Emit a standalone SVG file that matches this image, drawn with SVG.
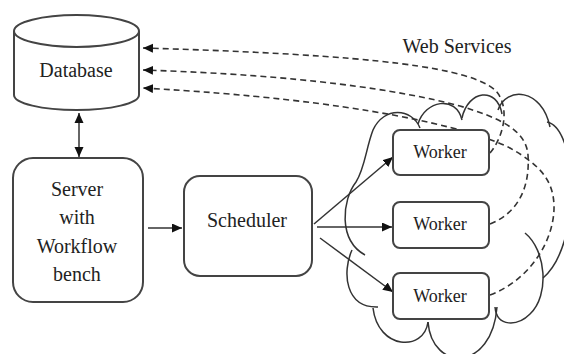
<svg xmlns="http://www.w3.org/2000/svg" width="564" height="354" viewBox="0 0 564 354">
<style>
.box{fill:#fff;stroke:#444;stroke-width:2}
.cloud{fill:none;stroke:#333;stroke-width:1.5}
.ln{fill:none;stroke:#333;stroke-width:1.5}
.dash{fill:none;stroke:#333;stroke-width:1.6;stroke-dasharray:6 4}
text{font-family:"Times New Roman",Times,"Liberation Serif","DejaVu Serif","Noto Serif",Tinos,serif;font-size:20px;fill:#222;text-anchor:middle}
.tw{font-size:18px}
</style>
<defs>
<marker id="ah" markerUnits="userSpaceOnUse" markerWidth="11" markerHeight="10" refX="10" refY="4.5" orient="auto">
<path d="M0,0 L10,4.5 L0,9 z" fill="#111"/>
</marker>
<marker id="ahs" markerUnits="userSpaceOnUse" markerWidth="11" markerHeight="10" refX="0" refY="4.5" orient="auto">
<path d="M10,0 L0,4.5 L10,9 z" fill="#111"/>
</marker>
</defs>
<g id="cloud">
<path class="cloud" d="M420,128 C412,108 384,106 373,130 C366,148 365,168 356,182 C342,200 338,240 365,255"/>
<path class="cloud" d="M418,124 C425,100 456,95 462,120"/>
<path class="cloud" d="M462,118 C468,90 497,86 502,114"/>
<path class="cloud" d="M498,110 C506,86 542,88 550,127"/>
<path class="cloud" d="M547,122 C578,128 582,245 543,278"/>
<path class="cloud" d="M525,233 C546,250 550,295 530,314 C518,326 497,328 495,307"/>
<path class="cloud" d="M428,322 C432,372 492,372 497,307"/>
<path class="cloud" d="M373,308 C378,350 424,352 428,322"/>
<path class="cloud" d="M352,250 C342,272 345,308 378,307"/>
</g>
<g id="connectors">
<path class="dash" d="M490,153 C505,135 510,105 495,90 C470,68 380,55 143,48" marker-end="url(#ah)"/>
<path class="dash" d="M490,224 C520,212 530,185 528,155 C526,130 500,118 460,106 C400,90 300,75 143,70" marker-end="url(#ah)"/>
<path class="dash" d="M490,295 C530,280 555,240 554,205 C553,180 540,165 510,148 C470,128 360,100 143,88" marker-end="url(#ah)"/>
<path class="ln" d="M79,113 L79,157" marker-start="url(#ahs)" marker-end="url(#ah)"/>
<path class="ln" d="M148,228 L182,228" marker-end="url(#ah)"/>
<path class="ln" d="M314,224 L393,157" marker-end="url(#ah)"/>
<path class="ln" d="M317,227 L392,227" marker-end="url(#ah)"/>
<path class="ln" d="M320,238 L393,292" marker-end="url(#ah)"/>
</g>
<g id="database">
<path class="box" d="M14,31 L14,95 A62.5,15 0 0 0 139,95 L139,31"/>
<ellipse class="box" cx="76.5" cy="31" rx="62.5" ry="16"/>
<text x="76" y="77">Database</text>
</g>
<g id="server">
<rect class="box" x="13" y="158" width="130" height="144" rx="20"/>
<text x="77" y="196">Server</text>
<text x="77" y="224">with</text>
<text x="77" y="253">Workflow</text>
<text x="77" y="281">bench</text>
</g>
<g id="scheduler">
<rect class="box" x="184" y="176" width="128" height="100" rx="16"/>
<text x="247" y="227">Scheduler</text>
</g>
<g id="worker1">
<rect class="box" x="393" y="130" width="96" height="45" rx="7"/>
<text class="tw" x="440" y="158">Worker</text>
</g>
<g id="worker2">
<rect class="box" x="393" y="202" width="96" height="46" rx="7"/>
<text class="tw" x="440" y="230">Worker</text>
</g>
<g id="worker3">
<rect class="box" x="393" y="273" width="96" height="46" rx="7"/>
<text class="tw" x="440" y="302">Worker</text>
</g>
<g id="label">
<text x="457" y="53">Web Services</text>
</g>
</svg>
